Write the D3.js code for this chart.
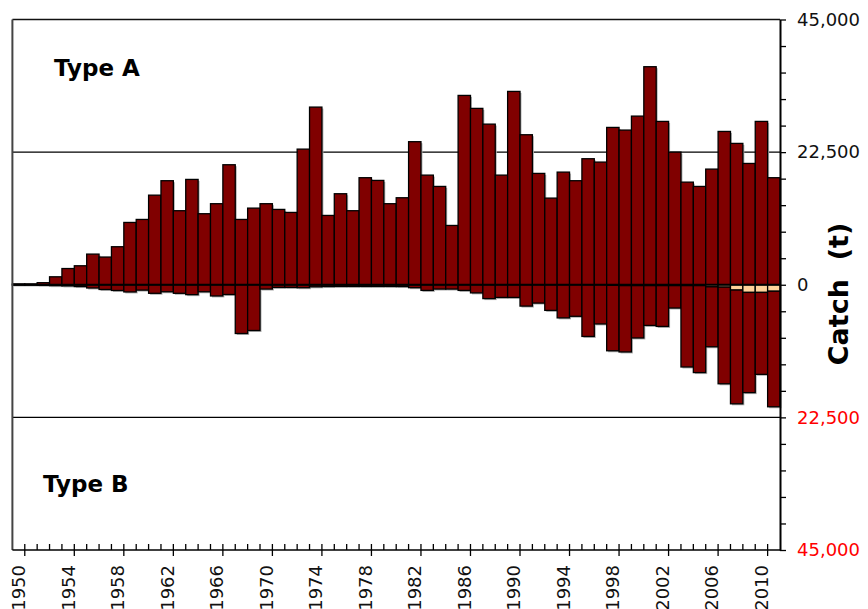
<!DOCTYPE html>
<html>
<head>
<meta charset="utf-8">
<script src="https://cdn.jsdelivr.net/npm/d3@7"></script>
<style>
  body { margin: 0; background: #fff; }
  text { font-family: "DejaVu Sans", Verdana, sans-serif; }
</style>
</head>
<body>
<div id="host"></div>
<script>
// Layout constants
const width = 868;
const height = 609;
const plotLeft = 12.4, plotRight = 780, plotTop = 19.5, plotBottom = 550;

// Data: catch by year (t)
const years = d3.range(1950, 2012);
const typeA = [
    150, 150, 350, 1350, 2750, 3220, 5200, 4700, 6450, 10570,
    11080, 15200, 17650, 12560, 17870, 12050, 13750, 20360, 11080, 13000,
    13750, 12780, 12270, 23010, 30140, 11760, 15440, 12560, 18160, 17700,
    13750, 14760, 24270, 18600, 16680, 10060, 32120, 29920, 27250, 18600,
    32800, 25450, 18890, 14700, 19110, 17650, 21380, 20810, 26690, 26240,
    28610, 36990, 27710, 22500, 17410, 16680, 19620, 26010, 23980, 20580,
    27710, 18160
];
// Type B, dark series (plotted downward)
const typeBDark = [
    50, 50, 100, 150, 200, 300, 550, 800, 970, 1220,
    910, 1450, 1190, 1450, 1680, 1190, 1900, 1650, 8270, 7760,
    730, 450, 450, 500, 350, 300, 280, 280, 280, 280,
    280, 300, 500, 960, 730, 730, 960, 1380, 2350, 2150,
    2150, 3620, 3110, 4350, 5620, 5350, 8770, 6650, 11100, 11250,
    8880, 6750, 6920, 3800, 13800, 14750, 10170, 16400, 19300, 17000,
    13900, 19600
];
// Type B, light series (stacked next to zero)
const typeBLight = [
    0, 0, 0, 0, 0, 0, 0, 0, 0, 0,
    0, 0, 0, 0, 0, 0, 0, 0, 0, 0,
    0, 0, 0, 0, 0, 0, 0, 0, 0, 0,
    0, 0, 0, 0, 0, 0, 0, 0, 0, 0,
    0, 0, 0, 0, 0, 0, 0, 0, 100, 150,
    150, 150, 150, 150, 150, 150, 350, 400, 900, 1300,
    1300, 1100
];
const axisLabels = [45000, 22500, 0, -22500, -45000];

const DARK = "#800000";
const LIGHT = "#FFD39B";

const svg = d3.select("#host").append("svg")
    .attr("width", width)
    .attr("height", height);

const x = d3.scaleBand().domain(years).range([plotLeft, plotRight]).padding(0);
const y = d3.scaleLinear().domain([-45000, 45000]).range([plotBottom, plotTop]);

// Gridlines at +/- 22,500
svg.append("g").selectAll("line")
    .data([22500, -22500])
    .join("line")
    .attr("x1", plotLeft).attr("x2", plotRight)
    .attr("y1", d => y(d)).attr("y2", d => y(d))
    .attr("stroke", "#000").attr("stroke-width", 1.3);

// Build bar records
const bars = [];
years.forEach((yr, i) => {
    bars.push({year: yr, y0: 0, y1: typeA[i], fill: DARK});
    bars.push({year: yr, y0: 0, y1: -typeBLight[i], fill: LIGHT});
    bars.push({year: yr, y0: -typeBLight[i], y1: -typeBLight[i] - typeBDark[i], fill: DARK});
});
const visible = bars.filter(b => b.y1 !== b.y0);

// Soft shadow
svg.append("g").selectAll("rect")
    .data(visible)
    .join("rect")
    .attr("x", d => x(d.year) + 1.5)
    .attr("width", x.bandwidth())
    .attr("y", d => y(Math.max(d.y0, d.y1)) + 1.5)
    .attr("height", d => Math.abs(y(d.y0) - y(d.y1)))
    .attr("fill", "#b0b0b0");

svg.append("g").selectAll("rect")
    .data(visible)
    .join("rect")
    .attr("x", d => x(d.year))
    .attr("width", x.bandwidth())
    .attr("y", d => y(Math.max(d.y0, d.y1)))
    .attr("height", d => Math.abs(y(d.y0) - y(d.y1)))
    .attr("fill", d => d.fill)
    .attr("stroke", "#000")
    .attr("stroke-width", 1.3);

// Zero line
svg.append("line")
    .attr("x1", plotLeft).attr("x2", plotRight)
    .attr("y1", y(0)).attr("y2", y(0))
    .attr("stroke", "#000").attr("stroke-width", 2.2);

// Frame: top and left
svg.append("line")
    .attr("x1", plotLeft).attr("x2", plotRight)
    .attr("y1", plotTop).attr("y2", plotTop)
    .attr("stroke", "#111").attr("stroke-width", 1.6);
svg.append("line")
    .attr("x1", plotLeft).attr("x2", plotLeft)
    .attr("y1", plotTop).attr("y2", plotBottom)
    .attr("stroke", "#444").attr("stroke-width", 2);

// Bottom axis
const bottom = svg.append("g");
bottom.append("line")
    .attr("x1", plotLeft).attr("x2", plotRight)
    .attr("y1", plotBottom).attr("y2", plotBottom)
    .attr("stroke", "#000").attr("stroke-width", 1.6);
bottom.selectAll("line.up")
    .data(years.slice(1))
    .join("line")
    .attr("class", "up")
    .attr("x1", d => x(d)).attr("x2", d => x(d))
    .attr("y1", plotBottom).attr("y2", plotBottom - 6)
    .attr("stroke", "#000").attr("stroke-width", 1.3);
const labelled = years.filter(d => (d - 1950) % 4 === 0);
bottom.selectAll("line.down")
    .data(labelled)
    .join("line")
    .attr("class", "down")
    .attr("x1", d => x(d) + x.bandwidth()).attr("x2", d => x(d) + x.bandwidth())
    .attr("y1", plotBottom).attr("y2", plotBottom + 6)
    .attr("stroke", "#000").attr("stroke-width", 1.3);
bottom.selectAll("text")
    .data(labelled)
    .join("text")
    .attr("transform", d => `translate(${x(d) + x.bandwidth() / 2},565) rotate(-90)`)
    .attr("text-anchor", "end")
    .attr("dy", "0.36em")
    .attr("font-size", 18)
    .attr("fill", "#111")
    .text(d => d);

// Right axis
const fmt = d3.format(",");
const right = svg.append("g")
    .attr("transform", `translate(${plotRight},0)`)
    .call(d3.axisRight(y)
        .tickValues(d3.range(-45000, 45001, 4500))
        .tickSizeInner(6)
        .tickSizeOuter(0)
        .tickPadding(11)
        .tickFormat(d => axisLabels.includes(d) ? fmt(Math.abs(d)) : ""));
right.select(".domain").attr("stroke-width", 2);
right.selectAll(".tick line").attr("stroke-width", 1.3);
right.selectAll(".tick text")
    .attr("font-size", 18)
    .attr("font-family", "DejaVu Sans, Verdana, sans-serif")
    .attr("fill", d => d < 0 ? "#FF0000" : "#111");

// Axis title
svg.append("text")
    .attr("transform", "translate(838,294) rotate(-90)")
    .attr("text-anchor", "middle")
    .attr("dy", "0.36em")
    .attr("font-size", 27)
    .attr("font-weight", "bold")
    .attr("fill", "#000")
    .attr("xml:space", "preserve")
    .style("white-space", "pre")
    .text("Catch  (t)");

// Panel labels
svg.append("text")
    .attr("x", 54).attr("y", 76)
    .attr("font-size", 23)
    .attr("font-weight", "bold")
    .text("Type A");
svg.append("text")
    .attr("x", 43).attr("y", 492)
    .attr("font-size", 23)
    .attr("font-weight", "bold")
    .text("Type B");
</script>
</body>
</html>
